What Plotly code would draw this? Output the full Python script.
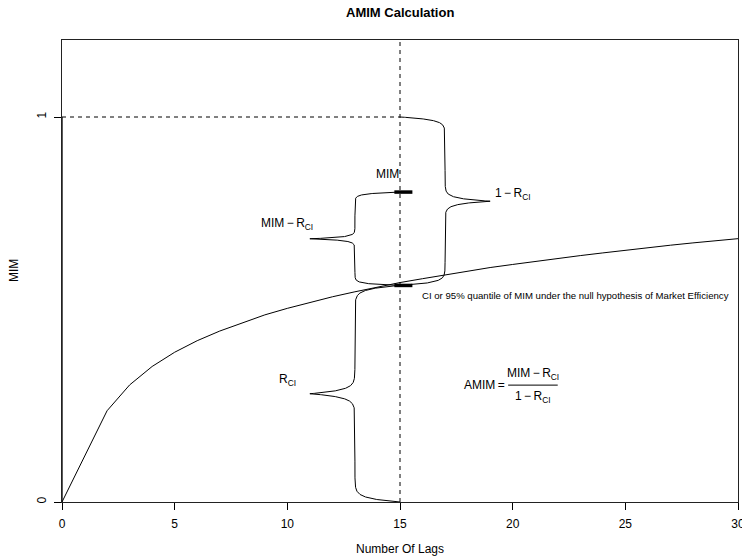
import numpy as np
import plotly.graph_objects as go

# ---- data ----
lags = [0, 2, 3, 4, 5, 6, 7, 8, 9, 10, 11, 12, 13, 14, 15, 16, 17, 18, 19, 20,
        21, 22, 23, 24, 25, 26, 27, 28, 29, 30]
mim_curve = [0.000, 0.237, 0.304, 0.352, 0.389, 0.419, 0.444, 0.466, 0.486, 0.503,
             0.519, 0.533, 0.546, 0.558, 0.570, 0.580, 0.590, 0.600, 0.609, 0.617,
             0.625, 0.633, 0.640, 0.647, 0.654, 0.661, 0.667, 0.673, 0.679, 0.684]
lag_mark = 15
mim_value = 0.805
r_ci = 0.5625
x_ticks = [0, 5, 10, 15, 20, 25, 30]
y_ticks = [0, 1]

FONT = "Liberation Sans, Arial, sans-serif"
BLACK = "black"

W, H = 742, 558
ML, MR, MT, MB = 62, 4, 40, 56
PW, PH = W - ML - MR, H - MT - MB


def brace(y0, y1, xb, xs, xt, s_frac=0.016, n=1500):
    L = y1 - y0
    s = s_frac * L
    h = L / 2.0
    u = np.linspace(0, 1, n)
    t = h * u
    x_low = xs + (xb - xs) * np.exp(-t / s) + (xt - xs) * np.exp(-(h - t) / s)
    y_low = y0 + t
    x_up = x_low[::-1]
    y_up = (y0 + y1) - y_low[::-1]
    return np.concatenate([x_low, x_up]), np.concatenate([y_low, y_up])


fig = go.Figure()

line_style = dict(color=BLACK, width=1)
dash_style = dict(color=BLACK, width=1, dash="4px,4px")

# main curve
fig.add_trace(go.Scatter(x=lags, y=mim_curve, mode="lines", line=line_style))

# dashed reference lines
fig.add_trace(go.Scatter(x=[lag_mark, lag_mark], y=[0, 1.2], mode="lines", line=dash_style))
fig.add_trace(go.Scatter(x=[0, lag_mark], y=[1, 1], mode="lines", line=dash_style))
fig.add_trace(go.Scatter(x=[0, 0], y=[0, 1], mode="lines", line=dict(color=BLACK, width=1.3)))

# braces
for (y0, y1, xs, xt) in [(0, r_ci, 13, 11), (r_ci, mim_value, 13, 11), (r_ci, 1, 17, 19)]:
    bx, by = brace(y0, y1, lag_mark, xs, xt)
    fig.add_trace(go.Scatter(x=bx, y=by, mode="lines", line=line_style))

# thick markers for MIM and R_CI
for yv in [mim_value, r_ci]:
    fig.add_trace(go.Scatter(x=[14.75, 15.55], y=[yv, yv], mode="lines",
                             line=dict(color=BLACK, width=3.5)))

TS = "\u2009"
ann = []
def txt(x, y, t, size=12, xanchor="center"):
    ann.append(dict(x=x, y=y, xref="x", yref="y", text=t, showarrow=False,
                    font=dict(family=FONT, size=size, color=BLACK),
                    xanchor=xanchor, yanchor="middle"))

txt(14.45, 0.852, "MIM")
txt(10, 0.721, f"MIM{TS}−{TS}R<sub>CI</sub>")
txt(10, 0.318, "R<sub>CI</sub>")
txt(20, 0.80, f"1{TS}−{TS}R<sub>CI</sub>")
txt(15.9, 0.537, "CI or 95% quantile of MIM under the null hypothesis of Market Efficiency",
    size=9.6, xanchor="left")
txt(19.75, 0.3036, f"AMIM{TS}=", xanchor="right")
txt(20.9, 0.333, f"MIM{TS}−{TS}R<sub>CI</sub>")
txt(20.9, 0.272, f"1{TS}−{TS}R<sub>CI</sub>")

fig.add_shape(type="line", xref="x", yref="y", x0=19.8, x1=22.0, y0=0.3036, y1=0.3036,
              line=dict(color=BLACK, width=1))

# titles as paper-anchored annotations (pixel positions from the reference)
def px_x(px):
    return (px - ML) / PW

def px_y(py):
    return (H - MB - py) / PH

ann.append(dict(x=px_x(400), y=px_y(13), xref="paper", yref="paper",
                text="<b>AMIM Calculation</b>", showarrow=False,
                font=dict(family=FONT, size=13, color=BLACK),
                xanchor="center", yanchor="middle"))
ann.append(dict(x=px_x(400), y=px_y(549), xref="paper", yref="paper",
                text="Number Of Lags", showarrow=False,
                font=dict(family=FONT, size=12, color=BLACK),
                xanchor="center", yanchor="middle"))
ann.append(dict(x=px_x(14), y=px_y(271), xref="paper", yref="paper",
                text="MIM", showarrow=False, textangle=-90,
                font=dict(family=FONT, size=12, color=BLACK),
                xanchor="center", yanchor="middle"))

axis_common = dict(showline=True, mirror=True, linecolor="#222", linewidth=1,
                   ticks="outside", ticklen=7, tickcolor=BLACK, tickwidth=1,
                   showgrid=False, zeroline=False, automargin=False,
                   ticklabeloverflow="allow",
                   tickfont=dict(family=FONT, size=12, color=BLACK))

fig.update_layout(
    width=W, height=H,
    margin=dict(l=ML, r=MR, t=MT, b=MB),
    paper_bgcolor="white", plot_bgcolor="white",
    showlegend=False,
    hovermode=False,
    annotations=ann,
    xaxis=dict(range=[0, 30], tickvals=x_ticks, ticktext=[str(v) for v in x_ticks],
               ticklabelstandoff=4, **axis_common),
    yaxis=dict(range=[0, 1.2], tickvals=y_ticks, ticktext=[str(v) for v in y_ticks],
               tickangle=-90, ticklabelstandoff=3, **axis_common),
)

fig.write_html("out.html",
               config={"displayModeBar": False},
               post_script="document.body.style.margin='0';document.body.style.overflow='hidden';")
